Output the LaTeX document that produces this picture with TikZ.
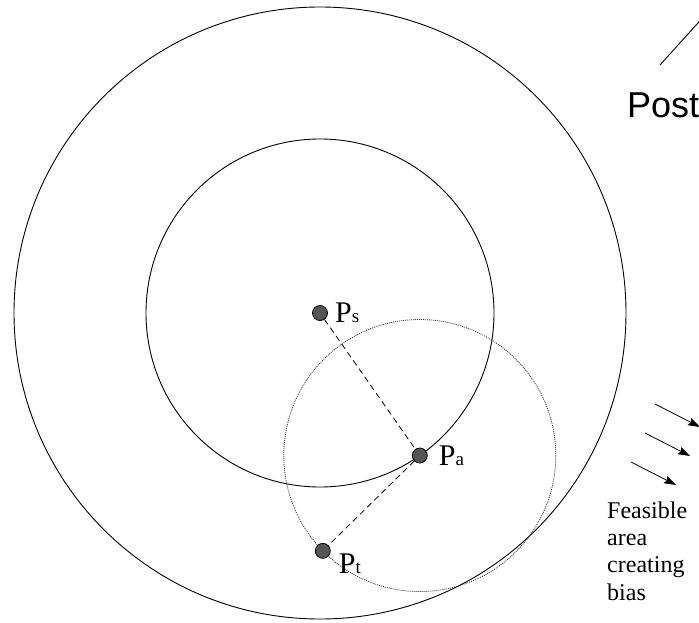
\documentclass[tikz,border=0pt]{standalone}
\usepackage{fontspec}
\setmainfont{Liberation Serif}
\newfontfamily\postfont{Liberation Sans}
\usepackage{tikz}
\usetikzlibrary{positioning,arrows.meta,calc}
\definecolor{dotgray}{RGB}{85,85,85}
\definecolor{reachgray}{RGB}{50,50,50}

\newcommand{\ptname}[1]{P{\fontsize{19}{19}\selectfont #1}}

\begin{document}
\begin{tikzpicture}[x=1pt, y=-1pt,
        ptdot/.style={circle, draw=black, fill=dotgray, line width=0.8pt,
                      minimum size=15pt, inner sep=0pt},
        ptlabel/.style={inner sep=0pt, font=\fontsize{30}{30}\selectfont},
        ring/.style={line width=0.9pt},
        reach/.style={line width=0.8pt, dash pattern=on 1pt off 1pt, reachgray},
        link/.style={line width=0.8pt, dash pattern=on 6pt off 4pt},
        biasarrow/.style={line width=0.8pt, -{Stealth[length=12pt, width=8pt, inset=2pt]}},
        note/.style={inner sep=0pt, align=left, font=\fontsize{24}{27.3}\selectfont}
    ]
        \useasboundingbox (0,0) rectangle (699,623);
        \clip (0,0) rectangle (699,623);

        % centre and circles
        \coordinate (c) at (320,313);
        \coordinate (ca) at ($(c)+(55:174)$);
        \draw[ring] (c) circle[radius=306];
        \draw[ring] (c) circle[radius=174];
        \draw[reach] (ca) circle[radius=136];

        % points
        \node[ptdot] (ps) at (c) {};
        \node[ptdot] (pa) at (ca) {};
        \node[ptdot] (pt) at ($(ca)+(135.5:136)$) {};

        \draw[link] (ps) -- (pa);
        \draw[link] (pa) -- (pt);

        \node[ptlabel, right=7pt of ps] (pslab) {\ptname{s}};
        \node[ptlabel, right=11pt of pa] (palab) {\ptname{a}};
        \node[ptlabel, right=8pt of pt, yshift=-13pt] (ptlab) {\ptname{t}};

        % right side
        \coordinate (edge1) at (660,65);
        \coordinate (edge2) at (716,3);
        \draw[ring] (edge1) -- (edge2);
        \node[anchor=base west, inner sep=0pt, font=\postfont\fontsize{36}{36}\selectfont] (post) at (627,118) {Post};

        \foreach \i/\x/\y in {1/655/404, 2/645/433, 3/631/462} {
            \coordinate (s\i) at (\x,\y);
            \coordinate (e\i) at ($(s\i)+(45,23)$);
            \draw[biasarrow] (s\i) -- (e\i);
        }
        \node[note, anchor=north west] (bias) at (607,501.5) {Feasible\\area\\creating\\bias};
    \end{tikzpicture}
\end{document}
